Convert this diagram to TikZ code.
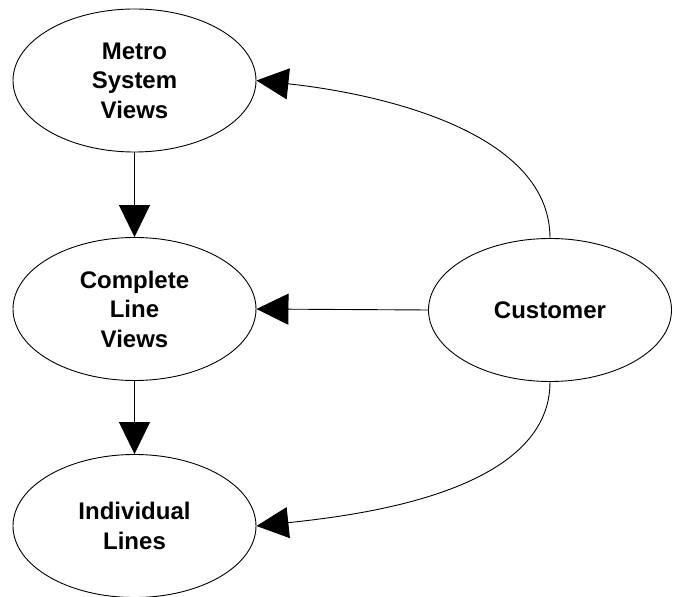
\documentclass[tikz,border=0pt]{standalone}
\usepackage{fontspec}
\setmainfont{Liberation Sans}
\usetikzlibrary{arrows.meta,shapes.geometric}
\begin{document}
\begin{tikzpicture}[x=1pt,y=1pt,
  ell/.style={draw=black, line width=0.9pt, ellipse, minimum width=243pt, minimum height=143pt, inner sep=0pt, align=center, font=\fontsize{24}{29.5}\selectfont\bfseries},
  arr/.style={draw=black, line width=0.9pt, -{Triangle[length=32pt,width=31pt]}}]
\useasboundingbox (0,0) rectangle (678,597);
\node[ell] (metro) at (134.5,516.5) {Metro\\System\\Views};
\node[ell] (complete) at (134.5,288) {Complete\\Line\\Views};
\node[ell] (individual) at (134.5,71) {Individual\\Lines};
\node[ell] (customer) at (550,287) {Customer};
\draw[arr] (metro.south) -- (complete.north);
\draw[arr] (complete.south) -- (individual.north);
\draw[arr] (customer.west) -- (complete.east);
\draw[arr] (customer.north) to[out=90,in=-6,looseness=0.85] (metro.east);
\draw[arr] (customer.south) to[out=-90,in=6,looseness=0.85] (individual.east);
\end{tikzpicture}
\end{document}
